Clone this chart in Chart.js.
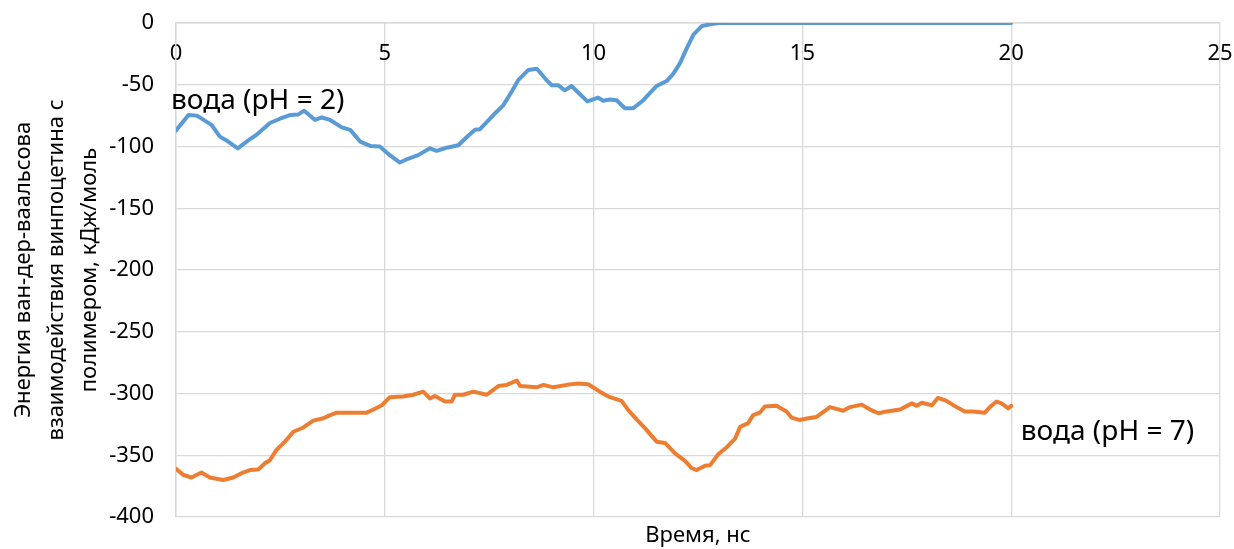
<!DOCTYPE html>
<html>
<head>
<meta charset="utf-8">
<title>Энергия ван-дер-ваальсова взаимодействия</title>
<script src="https://cdn.jsdelivr.net/npm/chart.js"></script>
<style>
  body { margin: 0; background: #fff; }
</style>
</head>
<body>
<canvas id="vdwChart" width="1234" height="549"></canvas>
<script>
// вода pH = 2: время (нс) и энергия (кДж/моль)
var timePh2 = [0, 0.3, 0.5, 0.85, 1.05, 1.25, 1.48, 1.73, 1.93, 2.25, 2.49, 2.73, 2.93, 3.07, 3.33, 3.49, 3.69, 3.97,
  4.17, 4.41, 4.65, 4.88, 5.12, 5.36, 5.52, 5.8, 6.08, 6.24, 6.48, 6.76, 6.96, 7.16, 7.28, 7.6, 7.84, 8.04, 8.2,
  8.44, 8.64, 8.84, 9.0, 9.16, 9.31, 9.47, 9.67, 9.85, 10.11, 10.23, 10.39, 10.55, 10.75, 10.95, 11.19, 11.51,
  11.75, 11.91, 12.07, 12.23, 12.39, 12.59, 12.79, 13.0, 20];
var energyPh2 = [-87, -74.5, -75, -82.5, -92, -96, -101.5, -95, -90.5, -81, -77.5, -74.5, -74, -71, -78.5, -76.5, -78.5, -84.5,
  -86.5, -96, -99.5, -100, -107, -113, -110.5, -107, -101.5, -103.5, -101, -99, -92.5, -86.5, -86, -74.5, -66.5, -55.5, -46,
  -38, -37, -45, -50.5, -50.5, -54.5, -51, -57.5, -63.5, -60.5, -63, -62, -62.5, -69, -69, -62.5, -51,
  -47, -41, -32.5, -20.5, -9.5, -2.5, -1, 0, 0];

// вода pH = 7
var timePh7 = [0, 0.18, 0.37, 0.61, 0.81, 1.13, 1.37, 1.57, 1.77, 1.97, 2.13, 2.25, 2.41, 2.61, 2.81, 3.05, 3.29, 3.53,
  3.69, 3.85, 4.25, 4.57, 4.73, 4.93, 5.12, 5.44, 5.68, 5.92, 6.08, 6.2, 6.44, 6.6, 6.68, 6.88, 7.12, 7.44, 7.72, 7.92,
  8.16, 8.24, 8.64, 8.8, 9.04, 9.36, 9.6, 9.87, 10.15, 10.39, 10.67, 10.83, 11.03, 11.23, 11.51, 11.71, 11.95, 12.19,
  12.35, 12.47, 12.67, 12.79, 12.99, 13.19, 13.39, 13.51, 13.7, 13.82, 13.98, 14.1, 14.38, 14.62, 14.74, 14.94, 15.14,
  15.34, 15.66, 15.98, 16.14, 16.42, 16.62, 16.82, 17.02, 17.34, 17.62, 17.74, 17.86, 18.1, 18.25, 18.45, 18.69, 18.89,
  19.09, 19.37, 19.49, 19.65, 19.77, 19.93, 20];
var energyPh7 = [-361, -366, -368, -364, -368, -370, -368, -364.5, -362, -361.5, -356.5, -354, -345.5, -339, -331, -327.5, -322, -320,
  -317.5, -315.5, -315.5, -315.5, -313, -309.5, -303, -302.5, -301, -298.5, -304, -302, -306.5, -306.5, -301, -301, -298.5, -301, -294, -293,
  -289.5, -294, -295, -293, -295, -293, -292, -292.5, -298.5, -303, -306, -313.5, -321, -328, -339, -340, -348.5, -354.5,
  -360.5, -362, -358.5, -358, -349, -343.5, -336.5, -327, -324, -317.5, -315.5, -310.5, -310, -314.5, -319.5, -321.5, -320,
  -319, -311, -314, -311, -309, -313, -316, -314.5, -313, -308, -310, -307.5, -309.5, -303.5, -306, -311, -314.5,
  -314.5, -315.5, -311, -306.5, -308, -312, -310];

var seriesNames = ['вода (pH = 2)', 'вода (pH = 7)'];
var xTitle = 'Время, нс';
var yTitle = ['Энергия ван-дер-ваальсова', 'взаимодействия винпоцетина с', 'полимером, кДж/моль'];

function toPoints(xs, ys) {
  return xs.map(function (x, i) { return { x: x, y: ys[i] }; });
}

var FONT = "'Noto Sans', sans-serif";
var gridColor = '#d9d9d9';
var noTick = 'rgba(0,0,0,0)';

// series names written next to the curves
var seriesLabels = {
  id: 'seriesLabels',
  afterDatasetsDraw: function (chart) {
    var c = chart.ctx, sx = chart.scales.x, sy = chart.scales.y;
    var spots = [{ x: -0.12, y: -63 }, { x: 20.23, y: -331 }];
    c.save();
    c.font = '28px ' + FONT;
    c.fillStyle = '#000';
    c.textBaseline = 'middle';
    c.textAlign = 'left';
    seriesNames.forEach(function (name, i) {
      c.fillText(name, sx.getPixelForValue(spots[i].x), sy.getPixelForValue(spots[i].y));
    });
    c.restore();
  }
};

var ctx = document.getElementById('vdwChart').getContext('2d');
var chart = new Chart(ctx, {
  type: 'line',
  data: {
    datasets: [{
      label: seriesNames[0],
      data: toPoints(timePh2, energyPh2),
      borderColor: '#5b9bd5',
      borderWidth: 4,
      borderJoinStyle: 'round',
      borderCapStyle: 'round',
      pointRadius: 0,
      tension: 0
    }, {
      label: seriesNames[1],
      data: toPoints(timePh7, energyPh7),
      borderColor: '#ed7d31',
      borderWidth: 4,
      borderJoinStyle: 'round',
      borderCapStyle: 'round',
      pointRadius: 0,
      tension: 0
    }]
  },
  options: {
    responsive: false,
    animation: false,
    layout: { padding: { left: 0, right: 14, top: 23, bottom: 0 } },
    plugins: {
      legend: { display: false },
      tooltip: { enabled: false }
    },
    scales: {
      x: {
        type: 'linear',
        position: { y: 0 }, // axis crosses at 0, at the top of the plot
        min: 0,
        max: 25,
        ticks: { stepSize: 5, color: '#000', font: { family: FONT, size: 22 }, padding: 0 },
        grid: { color: gridColor, lineWidth: 1.3, tickLength: 18, tickColor: noTick },
        border: { color: gridColor, width: 1.5 }
      },
      x2: {
        type: 'linear',
        position: 'bottom',
        min: 0,
        max: 25,
        ticks: { display: false },
        grid: { display: false, drawTicks: false },
        border: { display: false },
        title: { display: true, text: xTitle, color: '#000', font: { family: FONT, size: 22 }, padding: { top: 4, bottom: 0 } },
        afterFit: function (s) { s.height = 32; }
      },
      y: {
        type: 'linear',
        min: -400,
        max: 0,
        ticks: { stepSize: 50, color: '#000', font: { family: FONT, size: 22 }, padding: 0 },
        grid: { color: gridColor, lineWidth: 1.3, tickLength: 22, tickColor: noTick },
        border: { color: gridColor, width: 1.5 },
        title: {
          display: true,
          text: yTitle,
          color: '#000',
          font: { family: FONT, size: 22, lineHeight: 1.5 },
          padding: { top: 7, bottom: 0 }
        },
        afterFit: function (s) { s.width = 176; }
      }
    }
  },
  plugins: [seriesLabels]
});
</script>
</body>
</html>
